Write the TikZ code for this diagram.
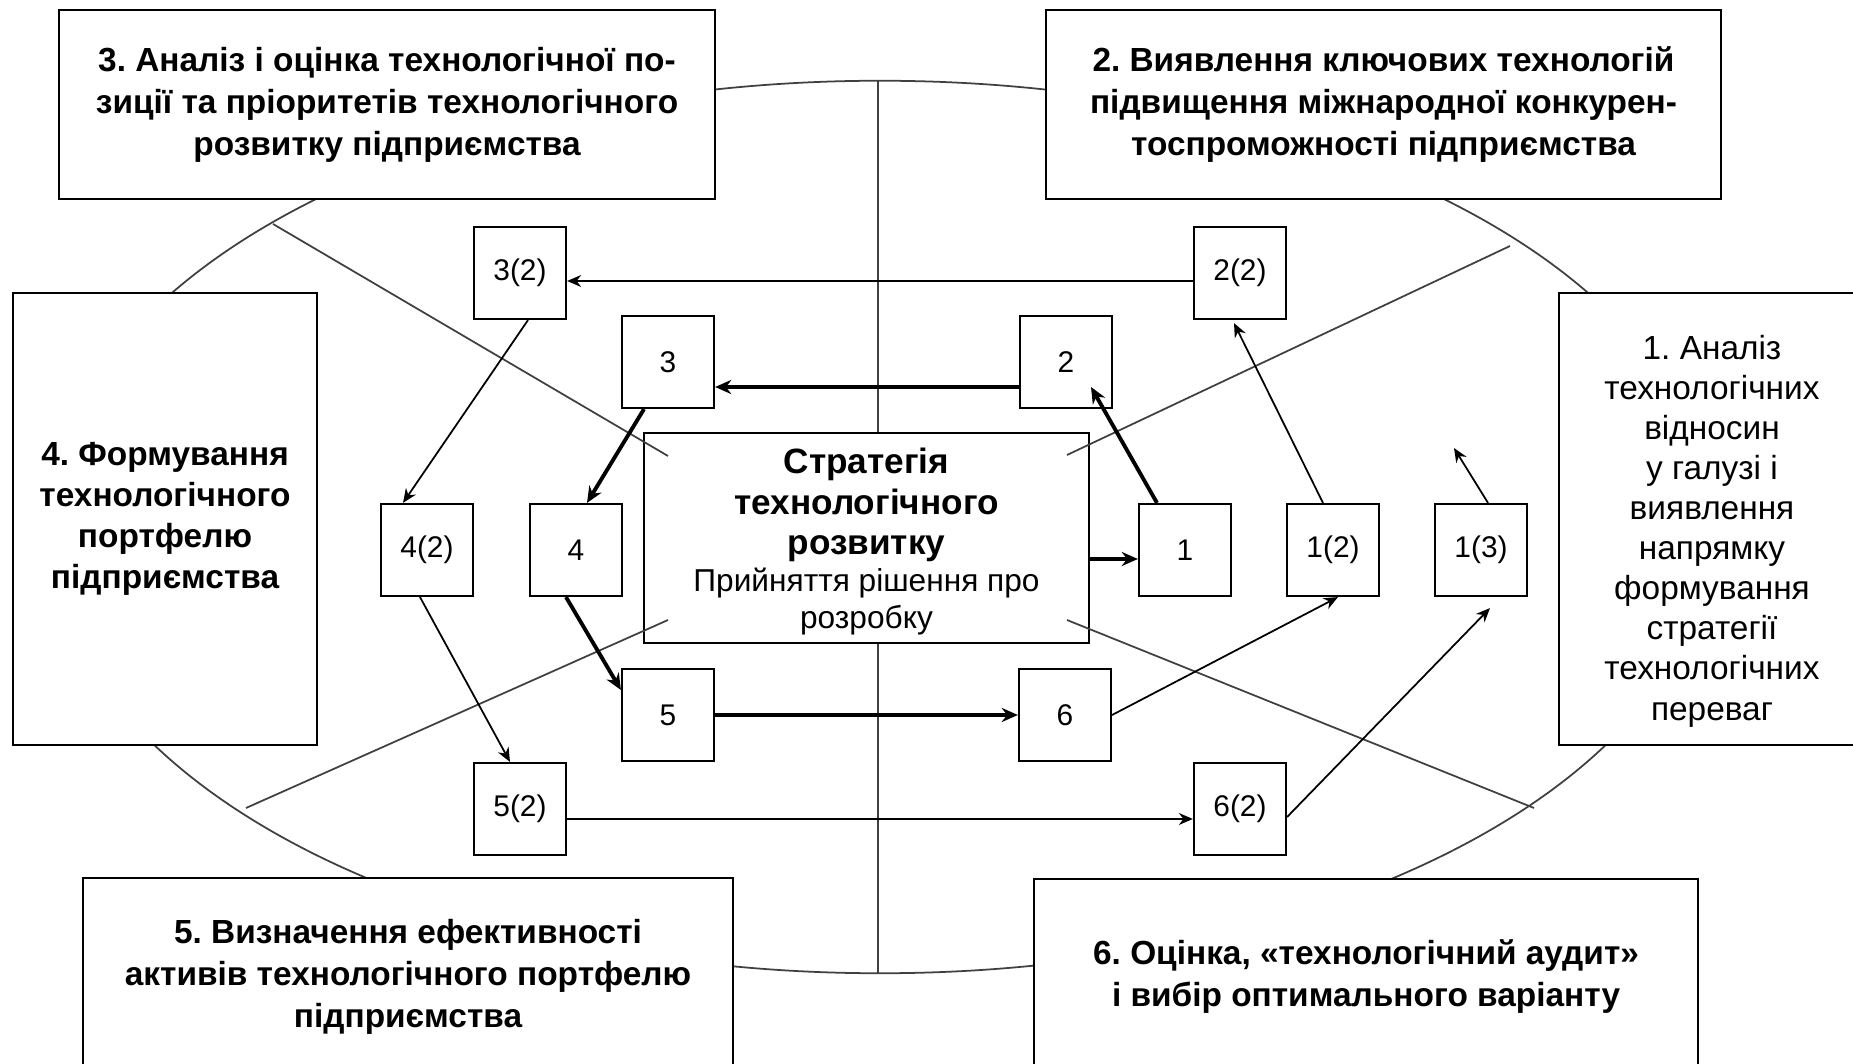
\documentclass[tikz,border=0pt]{standalone}
\usepackage{fontspec}
\setmainfont{Liberation Sans}
\frenchspacing
\usetikzlibrary{arrows.meta}

\begin{document}
\begin{tikzpicture}[x=0.01cm,y=-0.01cm]
	\useasboundingbox (0,0) rectangle (1853,1064);
	\tikzstyle{bloc}=[rectangle,draw=black,semithick,fill=white,inner sep=0pt,
	align=center,font=\bfseries\fontsize{9.5}{11.95}\selectfont]
	\tikzstyle{etape}=[rectangle,draw=black,semithick,fill=white,
	minimum width=0.92cm,minimum height=0.92cm,inner sep=0pt,
	font=\fontsize{8.5}{10}\selectfont]
	\tikzstyle{fond}=[black!75,line width=0.5pt]

	\draw[fond] (880,527) ellipse [x radius=8.31cm,y radius=4.46cm];
	\draw[fond] (878,81) -- (878,973);

	\node[bloc,minimum width=6.56cm,minimum height=1.89cm] (g3) at (387,104.5)
	{3. Аналіз і оцінка технологічної по-\\зиції та пріоритетів технологічного\\розвитку підприємства};
	\node[bloc,minimum width=6.75cm,minimum height=1.89cm] (g2) at (1383.5,104.5)
	{2. Виявлення ключових технологій\\підвищення міжнародної конкурен-\\тоспроможності підприємства};
	\node[bloc,minimum width=3.04cm,minimum height=4.52cm,
	font=\bfseries\fontsize{9.5}{11.7}\selectfont] (g4) at (165,519)
	{4. Формування\\технологічного\\портфелю\\підприємства};
	\node[bloc,minimum width=3.06cm,minimum height=4.52cm] (g1) at (1712,519) {};
	\node[align=center,font=\fontsize{9.5}{11.4}\selectfont] (g1t) at (1712,531)
	{1. Аналіз\\технологічних\\відносин\\у галузі і\\виявлення\\напрямку\\формування\\стратегії\\технологічних\\переваг};
	\node[bloc,minimum width=6.5cm,minimum height=1.97cm] (g5) at (408,976.5)
	{5. Визначення ефективності\\активів технологічного портфелю\\підприємства};
	\node[bloc,minimum width=6.64cm,minimum height=1.96cm] (g6) at (1366,977)
	{6. Оцінка, «технологічний аудит»\\і вибір оптимального варіанту};

	\node[bloc,minimum width=4.45cm,minimum height=2.1cm] (strat) at (866.5,538) {};
	\node[align=center,font=\bfseries\fontsize{10}{11.4}\selectfont] (strat1)
	at (866.5,505) {Стратегія\\технологічного\\розвитку};
	\node[align=center,font=\fontsize{9}{10.5}\selectfont] (strat2)
	at (866.5,602) {Прийняття рішення про\\розробку};

	\node[etape] (e32) at (520,273) {3(2)};
	\node[etape] (e22) at (1240,273) {2(2)};
	\node[etape] (e3) at (668,362) {3};
	\node[etape] (e2) at (1066,362) {2};
	\node[etape] (e42) at (427,550) {4(2)};
	\node[etape] (e4) at (576,550) {4};
	\node[etape] (e1) at (1185,550) {1};
	\node[etape] (e12) at (1333,550) {1(2)};
	\node[etape] (e13) at (1481,550) {1(3)};
	\node[etape] (e5) at (668,715) {5};
	\node[etape] (e6) at (1065,715) {6};
	\node[etape] (e52) at (520,809) {5(2)};
	\node[etape] (e62) at (1240,809) {6(2)};
	\coordinate (vide) at (1454,448);

	\draw[fond] (273,224) -- (668,456);
	\draw[fond] (1510,246) -- (1067,455);
	\draw[fond] (246,808) -- (668,620);
	\draw[fond] (1534,808) -- (1067,620);

	\tikzstyle{fleche}=[->,>={Stealth[length=4pt,width=3.4pt]},line width=0.5pt]
	\tikzstyle{grasse}=[->,>={Stealth[length=4.6pt,width=4pt]},line width=1.1pt]

	\draw[grasse] ([yshift=-0.09cm]e1.west -| strat.east) -- ([yshift=-0.09cm]e1.west);
	\draw[grasse] ([xshift=-0.28cm]e1.north) -- ([shift={(0.25cm,-0.25cm)}]e2.center);
	\draw[grasse] ([yshift=-0.25cm]e2.west) -- ([yshift=-0.25cm]e3.east);
	\draw[grasse] ([xshift=-0.24cm]e3.south) -- ([xshift=0.11cm]e4.north);
	\draw[grasse] ([xshift=-0.1cm]e4.south) -- ([yshift=0.25cm]e5.west);
	\draw[grasse] (e5) -- (e6);
	\draw[fleche] (e6.east) -- ([xshift=0.05cm]e12.south);
	\draw[fleche] ([xshift=-0.1cm]e12.north) -- ([shift={(-0.06cm,-0.03cm)}]e22.south);
	\draw[fleche] ([yshift=-0.08cm]e22.west) -- ([yshift=-0.08cm]e32.east);
	\draw[fleche] ([xshift=0.08cm]e32.south) -- ([xshift=-0.24cm]e42.north);
	\draw[fleche] ([xshift=-0.07cm]e42.south) -- ([xshift=-0.1cm]e52.north);
	\draw[fleche] ([yshift=-0.1cm]e52.east) -- ([yshift=-0.1cm]e62.west);
	\draw[fleche] ([yshift=-0.08cm]e62.east) -- ([shift={(0.09cm,-0.11cm)}]e13.south);
	\draw[fleche] ([xshift=0.07cm]e13.north) -- (vide);
\end{tikzpicture}
\end{document}
